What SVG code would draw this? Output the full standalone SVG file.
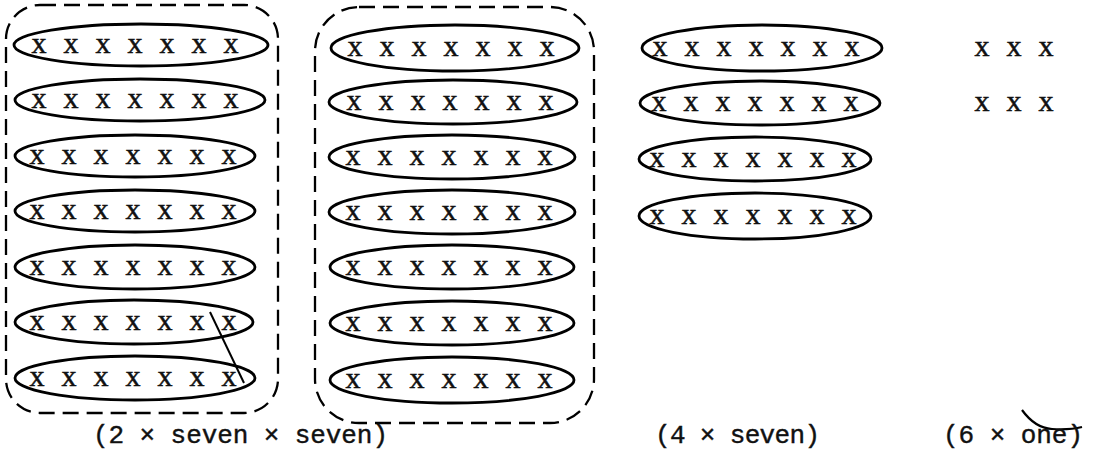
<svg xmlns="http://www.w3.org/2000/svg" width="1100" height="456" viewBox="0 0 1100 456">
<style>
.ov{fill:none;stroke:#000;stroke-width:2.8}
.dash{fill:none;stroke:#000;stroke-width:2.3;stroke-dasharray:16 8}
.xs{font-family:"Liberation Serif","DejaVu Serif",serif;font-size:30px;fill:#111;stroke:#111;stroke-width:0.5;text-anchor:middle}
.lbl{font-family:"Liberation Mono","DejaVu Sans Mono",monospace;font-size:26px;fill:#111;stroke:#111;stroke-width:0.4}
</style>
<rect width="1100" height="456" fill="#fff"/>
<g id="group-left">
<rect class="dash" x="6" y="5" width="272" height="408" rx="34"/>
<ellipse class="ov" cx="141" cy="45" rx="127" ry="21"/>
<ellipse class="ov" cx="140" cy="100" rx="125" ry="21"/>
<ellipse class="ov" cx="135" cy="156" rx="120" ry="21"/>
<ellipse class="ov" cx="135" cy="211" rx="120" ry="21"/>
<ellipse class="ov" cx="135" cy="267" rx="120" ry="22"/>
<ellipse class="ov" cx="134" cy="322" rx="119" ry="22"/>
<ellipse class="ov" cx="135" cy="378" rx="120" ry="22"/>
<text class="xs" x="39 71 103 135 167 199 231" y="53">xxxxxxx</text>
<text class="xs" x="39 71 103 135 167 199 231" y="108">xxxxxxx</text>
<text class="xs" x="37 69 101 133 165 197 229" y="164">xxxxxxx</text>
<text class="xs" x="37 69 101 133 165 197 229" y="219">xxxxxxx</text>
<text class="xs" x="37 69 101 133 165 197 229" y="275">xxxxxxx</text>
<text class="xs" x="37 69 101 133 165 197 229" y="330">xxxxxxx</text>
<text class="xs" x="37 69 101 133 165 197 229" y="386">xxxxxxx</text>
</g>
<g id="group-middle">
<rect class="dash" x="315" y="7" width="279" height="416" rx="44"/>
<ellipse class="ov" cx="455" cy="48" rx="124" ry="23"/>
<ellipse class="ov" cx="453" cy="102" rx="124" ry="22"/>
<ellipse class="ov" cx="452" cy="157" rx="123" ry="22"/>
<ellipse class="ov" cx="452" cy="212" rx="123" ry="22"/>
<ellipse class="ov" cx="452" cy="267" rx="122" ry="22"/>
<ellipse class="ov" cx="452" cy="323" rx="122" ry="22"/>
<ellipse class="ov" cx="452" cy="380" rx="122" ry="23"/>
<text class="xs" x="355 387 419 451 483 515 547" y="56">xxxxxxx</text>
<text class="xs" x="354 386 418 450 482 514 546" y="110">xxxxxxx</text>
<text class="xs" x="353 385 417 449 481 513 545" y="165">xxxxxxx</text>
<text class="xs" x="353 385 417 449 481 513 545" y="220">xxxxxxx</text>
<text class="xs" x="353 385 417 449 481 513 545" y="275">xxxxxxx</text>
<text class="xs" x="353 385 417 449 481 513 545" y="331">xxxxxxx</text>
<text class="xs" x="353 385 417 449 481 513 545" y="388">xxxxxxx</text>
</g>
<g id="group-right">
<ellipse class="ov" cx="762" cy="48" rx="120" ry="23"/>
<ellipse class="ov" cx="760" cy="103" rx="120" ry="22"/>
<ellipse class="ov" cx="755" cy="159" rx="116" ry="22"/>
<ellipse class="ov" cx="755" cy="216" rx="116" ry="23"/>
<text class="xs" x="660 692 724 756 788 820 852" y="56">xxxxxxx</text>
<text class="xs" x="659 691 723 755 787 819 851" y="111">xxxxxxx</text>
<text class="xs" x="657 689 721 753 785 817 849" y="167">xxxxxxx</text>
<text class="xs" x="657 689 721 753 785 817 849" y="224">xxxxxxx</text>
</g>
<g id="group-ones">
<text class="xs" x="982 1014 1046" y="56">xxx</text>
<text class="xs" x="982 1014 1046" y="111">xxx</text>
</g>
<g id="connectors">
<path d="M210,312 L244,383" fill="none" stroke="#000" stroke-width="2"/>
<path d="M1022,410 Q1035,428 1052,429 Q1070,430 1082,427" fill="none" stroke="#000" stroke-width="2.2"/>
</g>
<g id="labels">
<text class="lbl" x="93" y="443" textLength="295">(2 × seven × seven)</text>
<text class="lbl" x="655" y="443" textLength="165">(4 × seven)</text>
<text class="lbl" x="943" y="443" textLength="140">(6 × one)</text>
</g>
</svg>
